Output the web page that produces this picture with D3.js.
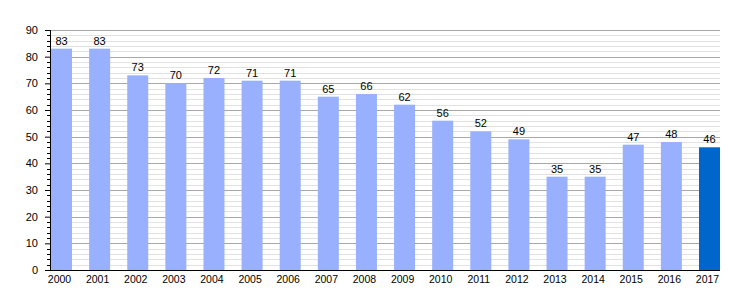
<!DOCTYPE html>
<html>
<head>
<meta charset="utf-8">
<script src="https://cdn.jsdelivr.net/npm/d3@7"></script>
<style>
  body { margin: 0; background: #fff; }
  text { font-family: "Liberation Sans", Arial, sans-serif; fill: #000; }
</style>
</head>
<body>
<div id="chart"></div>
<script>
const years = ["2000","2001","2002","2003","2004","2005","2006","2007","2008",
               "2009","2010","2011","2012","2013","2014","2015","2016","2017"];
const values = [83, 83, 73, 70, 72, 71, 71, 65, 66, 62, 56, 52, 49, 35, 35, 47, 48, 46];
const yTicks = [0, 10, 20, 30, 40, 50, 60, 70, 80, 90];

const W = 750, H = 300;
const margin = {t: 30, l: 50, r: 30, b: 30};
const plotW = W - margin.l - margin.r;
const plotH = H - margin.t - margin.b;

const svg = d3.select("#chart").append("svg")
    .attr("width", W)
    .attr("height", H);

const g = svg.append("g")
    .attr("transform", `translate(${margin.l}, ${margin.t})`);

const x = d3.scaleBand()
    .domain(years)
    .range([1, plotW])
    .paddingInner(0.449)
    .paddingOuter(0)
    .align(0);

const y = d3.scaleLinear()
    .domain([0, 90])
    .range([plotH, 0]);

// minor grid every 2
const minor = d3.range(0, 91, 2).filter(d => d % 10 !== 0);
g.selectAll(".minor-grid")
    .data(minor)
    .join("line")
    .attr("x1", 0).attr("x2", plotW)
    .attr("y1", d => Math.round(y(d)) + 0.5)
    .attr("y2", d => Math.round(y(d)) + 0.5)
    .attr("stroke", "#e2e2e2");

g.selectAll(".major-grid")
    .data(yTicks.filter(d => d > 0))
    .join("line")
    .attr("x1", 0).attr("x2", plotW)
    .attr("y1", d => Math.round(y(d)) + 0.5)
    .attr("y2", d => Math.round(y(d)) + 0.5)
    .attr("stroke", "#a8a8a8");

// bars
g.selectAll(".bar")
    .data(values)
    .join("rect")
    .attr("x", (d, i) => x(years[i]))
    .attr("y", d => y(d))
    .attr("width", x.bandwidth())
    .attr("height", d => plotH - y(d))
    .attr("fill", (d, i) => i === values.length - 1 ? "#0066cc" : "#99b0ff");

g.selectAll(".val")
    .data(values)
    .join("text")
    .attr("x", (d, i) => x(years[i]) + x.bandwidth() / 2)
    .attr("y", d => y(d) - 4)
    .attr("text-anchor", "middle")
    .attr("font-size", 11)
    .text(d => d);

// y axis
const axisY = d3.axisLeft(y)
    .tickValues(yTicks)
    .tickSize(5)
    .tickPadding(7)
    .tickFormat(d3.format("d"));
const ay = g.append("g").call(axisY);
ay.selectAll("text").attr("font-size", 11);
ay.select(".domain").remove();
g.selectAll(".minor-tick")
    .data(minor)
    .join("line")
    .attr("x1", -3).attr("x2", 0)
    .attr("y1", d => Math.round(y(d)) + 0.5)
    .attr("y2", d => Math.round(y(d)) + 0.5)
    .attr("stroke", "#000");
g.append("line")
    .attr("x1", 0.5).attr("x2", 0.5)
    .attr("y1", 0).attr("y2", plotH)
    .attr("stroke", "#000");

// x axis
const ax = g.append("g")
    .attr("transform", `translate(0, ${plotH})`);
ax.append("line")
    .attr("x1", 0).attr("x2", plotW)
    .attr("y1", 0.5).attr("y2", 0.5)
    .attr("stroke", "#000");
ax.selectAll(".xl")
    .data(years)
    .join("text")
    .attr("x", d => x(d) + x.bandwidth() / 2 - 2)
    .attr("y", 13)
    .attr("text-anchor", "middle")
    .attr("font-size", 10.5)
    .text(d => d);
</script>
</body>
</html>
